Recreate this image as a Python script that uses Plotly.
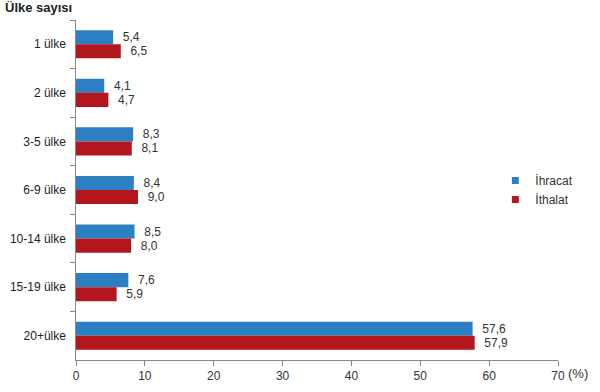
import plotly.graph_objects as go

categories = ["1 ülke", "2 ülke", "3-5 ülke", "6-9 ülke", "10-14 ülke", "15-19 ülke", "20+ülke"]
ihracat = [5.4, 4.1, 8.3, 8.4, 8.5, 7.6, 57.6]
ithalat = [6.5, 4.7, 8.1, 9.0, 8.0, 5.9, 57.9]
x_ticks = [0, 10, 20, 30, 40, 50, 60, 70]

BLUE = "#2D7FC3"
RED = "#B3161C"

def fmt(v):
    return "\u00a0\u00a0" + f"{v:.1f}".replace(".", ",")

FONT = "Liberation Sans, Arial, sans-serif"

fig = go.Figure()
for name, vals, col in [("İhracat", ihracat, BLUE), ("İthalat", ithalat, RED)]:
    fig.add_trace(go.Bar(
        y=categories, x=vals, orientation="h", name=name, showlegend=False,
        marker=dict(color=col, line=dict(width=0)),
        text=[fmt(v) for v in vals], textposition="outside",
        textfont=dict(color="#333333", size=12, family=FONT), cliponaxis=False,
    ))
for name, col in [("İhracat", BLUE), ("İthalat", RED)]:
    fig.add_trace(go.Scatter(
        x=[None], y=[None], mode="markers", name=name, legendgroup=name,
        marker=dict(symbol="square", size=7, color=col),
    ))

fig.update_layout(
    width=600, height=392,
    margin=dict(l=76, r=42, t=20, b=32),
    paper_bgcolor="white", plot_bgcolor="white",
    barmode="group", bargap=0.42, bargroupgap=0,
    font=dict(family=FONT, size=12, color="#222222"),
    showlegend=True,
    legend=dict(x=0.87, y=0.50, xanchor="left", yanchor="middle",
                font=dict(size=12, color="#333333"), traceorder="normal",
                itemwidth=30, tracegroupgap=6, bgcolor="rgba(0,0,0,0)",
                itemclick=False),
    xaxis=dict(range=[0, 70], tickvals=x_ticks, showgrid=False, zeroline=False,
               showline=True, linecolor="#888888", linewidth=1, automargin=False,
               ticks="outside", ticklen=5, tickcolor="#888888",
               tickfont=dict(size=12, color="#333333")),
    yaxis=dict(categoryorder="array", categoryarray=categories, autorange="reversed",
               showgrid=False, showline=True, linecolor="#888888", linewidth=1,
               ticks="outside", ticklen=5, tickcolor="#888888", tickson="boundaries",
               automargin=False,
               tickfont=dict(size=12, color="#222222"), ticksuffix="  "),
    annotations=[
        dict(text="<b>Ülke sayısı</b>", x=0, y=1 + 12/340, xref="paper", yref="paper",
             xanchor="left", yanchor="middle", showarrow=False, xshift=-73,
             font=dict(size=13, color="#222222")),
        dict(text="(%)", x=1, y=0, xref="paper", yref="paper", xanchor="left",
             yanchor="top", showarrow=False, xshift=8, yshift=-4,
             font=dict(size=13, color="#333333")),
    ],
)
fig.write_html("out.html", config={"displayModeBar": False},
               post_script="document.body.style.margin='0';document.body.style.padding='0';")
